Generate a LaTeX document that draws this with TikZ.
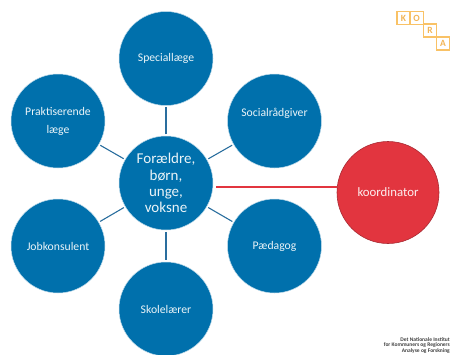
\documentclass[tikz,border=0pt]{standalone}
\usepackage{fontspec}
\setmainfont{Carlito}
\definecolor{kblue}{HTML}{0070AC}
\definecolor{kline}{HTML}{2A6E9E}
\definecolor{kred}{HTML}{E2353F}
\definecolor{kredline}{HTML}{A82A33}
\definecolor{kora}{HTML}{F9C266}
\definecolor{korat}{HTML}{F2B455}
\tikzset{
  x=1pt,y=-1pt,
  bub/.style={circle,fill=kblue,draw=white!75!kblue,line width=.5pt,minimum size=94pt,inner sep=0pt,text=white!92!kblue,font=\fontsize{11.7}{18}\selectfont,align=center},
  cen/.style={bub,font=\fontsize{15}{16.3}\selectfont},
  redbub/.style={circle,fill=kred,draw=kredline,line width=.6pt,minimum size=102pt,inner sep=0pt,text=white!92!kred,font=\fontsize{12.8}{14}\selectfont},
  spoke/.style={draw=kline,line width=1.1pt,shorten >=1.5pt,shorten <=1.5pt},
  kbox/.style={draw=kora,line width=1.4pt,minimum size=13.2pt,inner sep=0pt,text=korat,font=\bfseries\fontsize{9.5}{10}\selectfont},
  small/.style={font=\bfseries\fontsize{5.5}{5.8}\selectfont,align=right,anchor=north east,inner sep=0pt,text=black!75}
}
\begin{document}
\begin{tikzpicture}
\useasboundingbox (0,0) rectangle (450,354);
\clip (0,0) rectangle (450,354);
\node[cen] (c) at (166,183) {Forældre,\\børn,\\unge,\\voksne};
\node[bub] (a) at (166,58.5) {Speciallæge};
\node[bub,text height=8pt,text depth=17pt] (b) at (274.5,121) {Socialrådgiver};
\node[bub] (d) at (274.5,246) {Pædagog};
\node[bub] (e) at (166,309) {Skolelærer};
\node[bub] (f) at (58,246) {Jobkonsulent};
\node[bub] (g) at (58,121) {Praktiserende\\læge};
\node[redbub] (k) at (388,192.5) {koordinator};
\foreach \n in {a,b,d,e,f,g}{\draw[spoke] (c) -- (\n);}
\coordinate (rs) at (216,187);
\draw[draw=kred,line width=1.6pt] (rs) -- (rs -| k.west);
\node[kbox] (k1) at (403.5,18) {K};
\node[kbox] (k2) at (416.7,18) {O};
\node[kbox] (k3) at (430,30.5) {R};
\node[kbox] (k4) at (443,43.5) {A};
\node[small] (t) at (450,337) {Det Nationale Institut\\for Kommuners og Regioners\\Analyse og Forskning};
\end{tikzpicture}
\end{document}
